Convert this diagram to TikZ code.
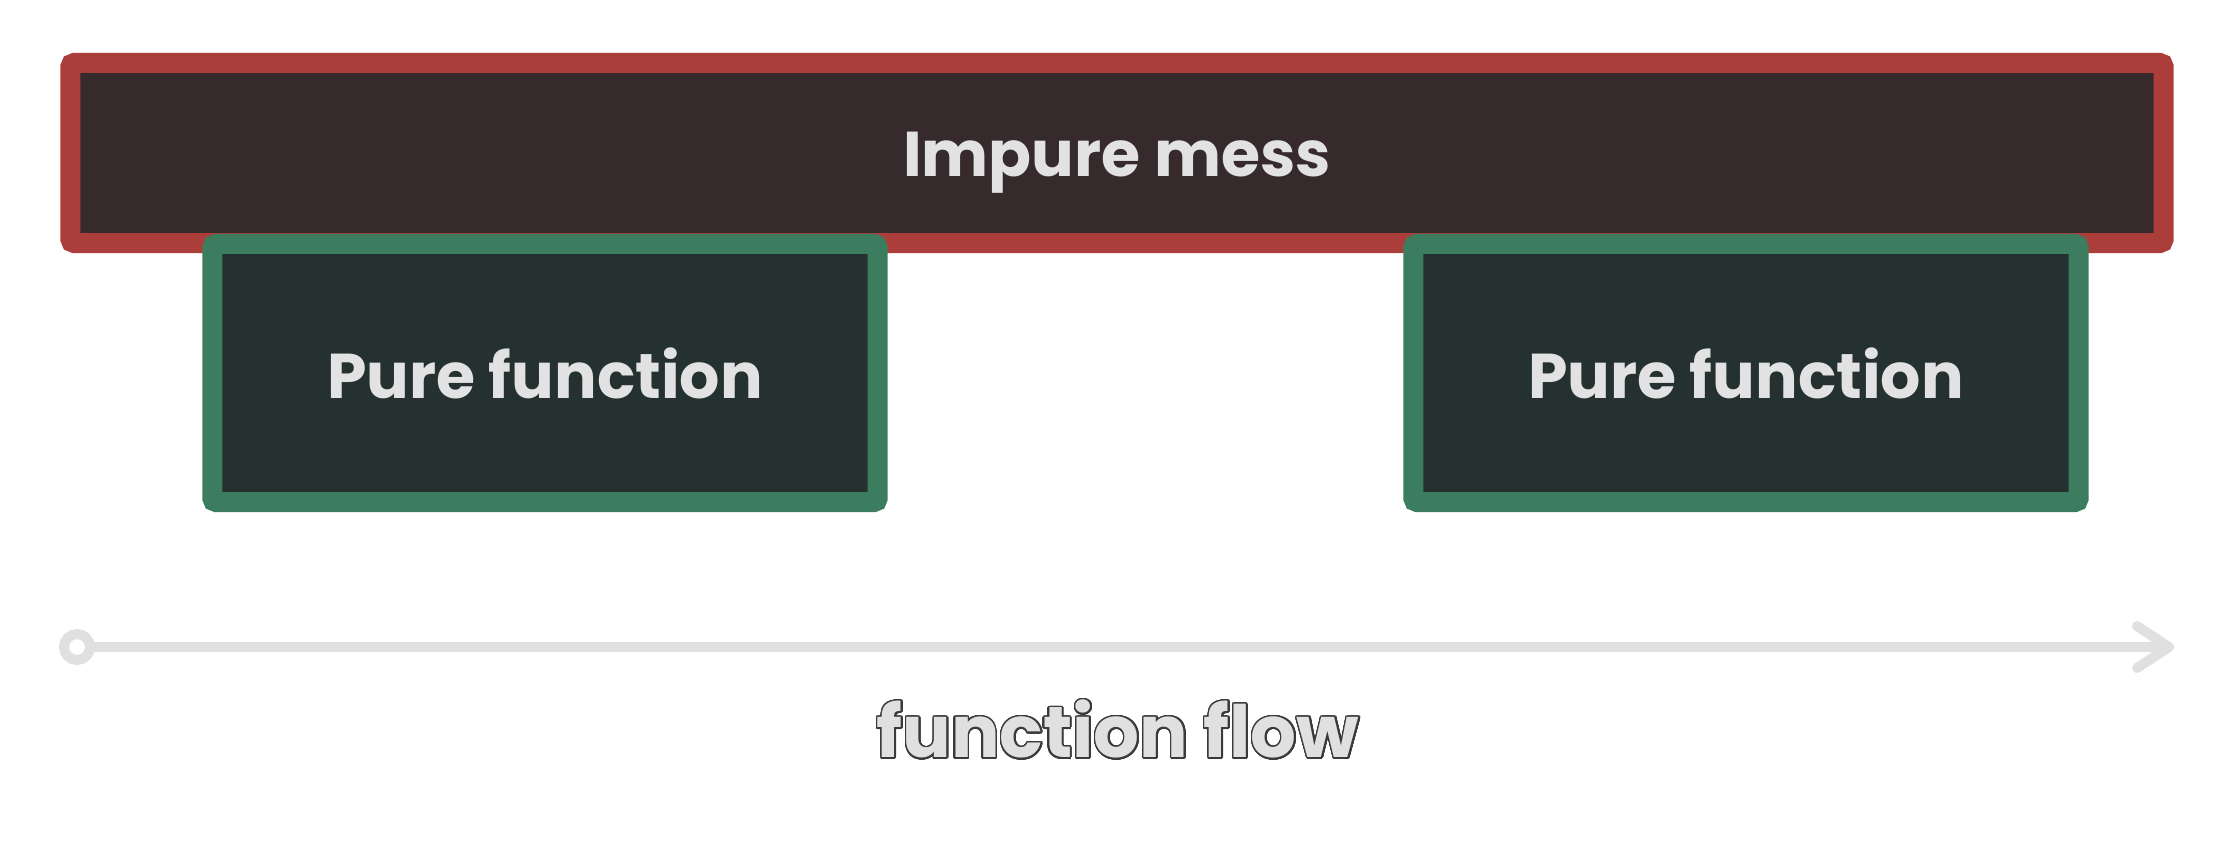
\documentclass[tikz,border=0pt]{standalone}
\usepackage{fontspec}
\setmainfont{Poppins}
\usepackage{contour}
\usetikzlibrary{arrows.meta}
\definecolor{redstroke}{HTML}{AB3E3A}
\definecolor{redfill}{HTML}{362A2D}
\definecolor{greenstroke}{HTML}{3B7D5E}
\definecolor{greenfill}{HTML}{253131}
\definecolor{textlight}{HTML}{E2E2E2}
\definecolor{flowgray}{HTML}{E0E0E0}
\definecolor{outlinedark}{HTML}{3A3A3A}
\tikzset{
  messbox/.style={draw=redstroke, fill=redfill, line width=0.2cm, rounded corners=0.04cm,
    minimum width=20.92cm, minimum height=1.8cm, inner sep=0pt,
    text=textlight, font=\fontsize{18}{20}\selectfont\bfseries},
  purebox/.style={draw=greenstroke, fill=greenfill, line width=0.2cm, rounded corners=0.04cm,
    minimum width=6.65cm, minimum height=2.58cm, inner sep=0pt,
    text=textlight, font=\fontsize{18}{20}\selectfont\bfseries},
  flowline/.style={draw=flowgray, line width=0.1cm, line cap=round, line join=round},
  startdot/.style={circle, draw=flowgray, line width=0.1cm, minimum size=0.26cm, inner sep=0pt, fill=white},
  flowlabel/.style={font=\fontsize{20.5}{24}\selectfont\bfseries, inner sep=0pt}
}
\contourlength{0.45pt}
\contournumber{32}
\begin{document}
\begin{tikzpicture}[x=0.01cm, y=-0.01cm]
\useasboundingbox (0,0) rectangle (2236,841);
\node[messbox] (mess) at (1117,153) {\raisebox{0pt}[\dimexpr\height+0.2cm\relax][\depth]{Impure mess}};
\node[purebox] (pure1) at (545,373) {Pure function};
\node[purebox] (pure2) at (1746,373) {Pure function};
\node[startdot] (start) at (77,647) {};
\coordinate (end) at (2174,647);
\draw[flowline, -{Straight Barb[round, length=0.32cm, width=0.42cm]}] (start) -- (end);
\node[flowlabel] (flow) at (1118,730) {\contour{outlinedark}{\textcolor{flowgray}{function flow}}};
\end{tikzpicture}
\end{document}
